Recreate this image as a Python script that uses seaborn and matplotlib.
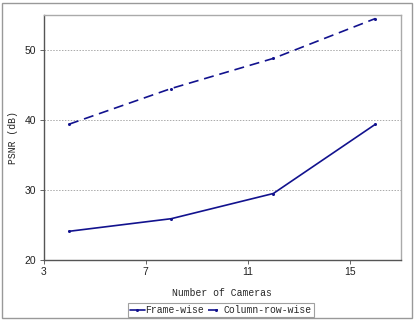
import matplotlib
matplotlib.use("Agg")
import matplotlib.pyplot as plt
import seaborn as sns
import pandas as pd
from matplotlib.patches import Rectangle

# data
cameras = [4, 8, 12, 16]
frame_wise = [24.1, 25.9, 29.5, 39.4]
column_row_wise = [39.4, 44.5, 48.8, 54.5]

df = pd.DataFrame({
    "cameras": cameras * 2,
    "psnr": frame_wise + column_row_wise,
    "method": ["Frame-wise"] * 4 + ["Column-row-wise"] * 4,
})

sns.set_style("white")
fig = plt.figure(figsize=(4.15, 3.21), dpi=100)
ax = fig.add_axes([43.5 / 415, 1 - 260 / 321, (401 - 43.5) / 415, (260 - 15) / 321])

navy = "#12128e"
ax = sns.lineplot(data=df, x="cameras", y="psnr", hue="method", style="method",
                  palette=[navy, navy], dashes=[(None, None), (6, 3.5)],
                  markers=["o", "o"], markersize=2.2, linewidth=1.2,
                  markeredgewidth=0, ax=ax, legend=True)

ax.set_xlim(3, 17)
ax.set_ylim(20, 55)
ax.set_xticks([3, 7, 11, 15])
ax.set_yticks([20, 30, 40, 50])
for y in [30, 40, 50]:
    ax.axhline(y, color="#aaaaaa", linestyle=(0, (1.5, 1.5)), linewidth=0.7, zorder=0)

ax.tick_params(axis="both", labelsize=7.5, length=3, width=0.7, color="#666666",
               direction="out", left=True, bottom=True, pad=2)
for lab in ax.get_xticklabels() + ax.get_yticklabels():
    lab.set_family("Liberation Sans")
    lab.set_color("#222222")

ax.spines["left"].set_color("#555555")
ax.spines["bottom"].set_color("#555555")
ax.spines["top"].set_color("#aaaaaa")
ax.spines["right"].set_color("#aaaaaa")
for s in ax.spines.values():
    s.set_linewidth(1.0)

mono = {"family": "Liberation Mono", "size": 7}
ax.set_xlabel("Number of Cameras", fontdict=mono, labelpad=8)
ax.set_ylabel("PSNR (dB)", fontdict=mono, labelpad=5)

handles, labels = ax.get_legend_handles_labels()
leg = fig.legend(handles, labels, loc="center", bbox_to_anchor=(221 / 415, 1 - 310 / 321),
                 ncol=2, prop=mono, frameon=True, fancybox=False, handlelength=1.5,
                 handletextpad=0.1, columnspacing=0.4, borderpad=0.25, borderaxespad=0)
leg.get_frame().set_edgecolor("#888888")
leg.get_frame().set_linewidth(0.8)
ax.get_legend().remove()

fig.patches.append(Rectangle((2 / 415, 3 / 321), 410 / 415, 315 / 321, transform=fig.transFigure,
                             fill=False, edgecolor="#999999", linewidth=1.0))

fig.savefig("out.png", dpi=100)
